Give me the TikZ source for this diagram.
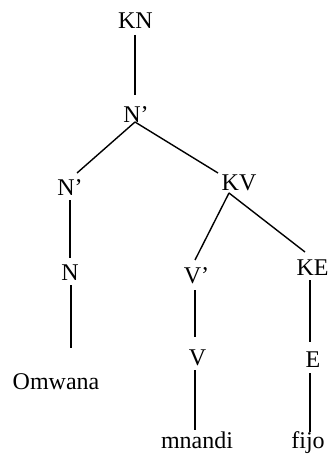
\documentclass[tikz,border=0pt]{standalone}
\usepackage{fontspec}
\setmainfont{Liberation Serif}
\usetikzlibrary{calc}
\begin{document}
\begin{tikzpicture}[x=1pt,y=-1pt,
  lbl/.style={inner sep=0pt,anchor=base,font=\fontsize{24}{28}\selectfont},
  edge/.style={line width=1.4pt,line cap=butt}]
\useasboundingbox (0,0) rectangle (330,454);
% tree labels (placed by baseline)
\node[lbl] (KN)  at (135.5,29)  {KN};
\node[lbl] (Np)  at (136,123)   {N’};
\node[lbl] (Npl) at (70,195)    {N’};
\node[lbl] (N)   at (70,280)    {N};
\node[lbl] (Om)  at (56,389)    {Omwana};
\node[lbl] (KV)  at (239,190)   {KV};
\node[lbl] (Vp)  at (196.5,283) {V’};
\node[lbl] (V)   at (197.5,365) {V};
\node[lbl] (mn)  at (197,448)   {mnandi};
\node[lbl] (KE)  at (312.5,275) {KE};
\node[lbl] (E)   at (313,367)   {E};
\node[lbl] (fi)  at (308,448)   {f\kern0pt ijo};
% branches
\draw[edge] ($(KN.base)+(-0.5,6)$) -- ($(Np.base)+(-1,-28)$);
\draw[edge] ($(Np.base)+(-1,-1)$) -- ($(Npl.base)+(7,-22)$);
\draw[edge] ($(Np.base)+(-1,-1)$) -- ($(KV.base)+(-21,-17)$);
\draw[edge] ($(Npl.base)+(0,5)$) -- ($(N.base)+(0,-22)$);
\draw[edge] ($(N.base)+(1,5)$) -- ($(Om.base)+(15,-41)$);
\draw[edge] ($(KV.base)+(-10,3)$) -- ($(Vp.base)+(-1.5,-23)$);
\draw[edge] ($(KV.base)+(-10,3)$) -- ($(KE.base)+(-7.5,-23)$);
\draw[edge] ($(Vp.base)+(-1.5,7)$) -- ($(V.base)+(-2.5,-28)$);
\draw[edge] ($(V.base)+(-2.5,5)$) -- ($(mn.base)+(-2,-18)$);
\draw[edge] ($(KE.base)+(-2.5,5)$) -- ($(E.base)+(-3,-25)$);
\draw[edge] ($(E.base)+(-3,6)$) -- ($(fi.base)+(2,-16)$);
\end{tikzpicture}
\end{document}
